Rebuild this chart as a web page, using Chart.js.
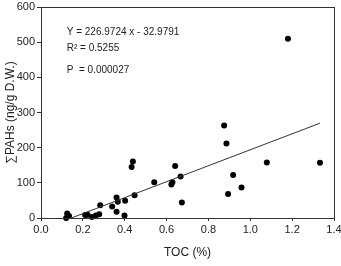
<!DOCTYPE html>
<html>
<head>
<meta charset="utf-8">
<script src="https://cdn.jsdelivr.net/npm/chart.js@4.4.1/dist/chart.umd.min.js"></script>
<style>
  html, body { margin: 0; padding: 0; background: #fff; }
  #wrap { width: 341px; height: 266px; }
</style>
</head>
<body>
<div id="wrap"><canvas id="chart"></canvas></div>
<script>
// TOC (%) vs sum of PAHs (ng/g D.W.)
const tocValues = [
  0.12, 0.125, 0.134, 0.211, 0.222, 0.243, 0.262, 0.278, 0.283, 0.340,
  0.361, 0.361, 0.367, 0.402, 0.399, 0.433, 0.439, 0.447, 0.541, 0.623,
  0.628, 0.641, 0.667, 0.673, 0.875, 0.886, 0.894, 0.918, 0.958, 1.079,
  1.180, 1.333
];
const pahValues = [
  0, 13, 6, 8.5, 9.5, 3, 7, 11, 36, 33,
  58, 18, 46, 49, 7, 145, 161, 65, 102, 95,
  102, 148, 118, 44, 263, 212, 68, 122, 87, 158,
  510, 157
];

// ends of the fitted line (Y = 226.9724x - 32.9791)
const fitX = [0.145, 1.333];
const fitY = [0, 269.6];

const xTicks = [0, 0.2, 0.4, 0.6, 0.8, 1.0, 1.2, 1.4];
const yTicks = [0, 100, 200, 300, 400, 500, 600];

const noteLines = ["Y = 226.9724 x - 32.9791", "R\u00b2 = 0.5255", "P  = 0.000027"];
const noteX = [0.123, 0.123, 0.123];
const noteY = [527, 482, 419];

const FONT = "'Liberation Sans', Arial, sans-serif";
const INK = "#222";

const scatterPoints = tocValues.map((x, i) => ({ x: x, y: pahValues[i] }));
const fitPoints = fitX.map((x, i) => ({ x: x, y: fitY[i] }));

// frame around the plot + regression stats text
const framePlugin = {
  id: "frame",
  afterDraw(chart) {
    const { ctx, chartArea } = chart;
    const xs = chart.scales.x;
    const ys = chart.scales.y;
    ctx.save();
    ctx.strokeStyle = "#333";
    ctx.lineWidth = 1;
    ctx.strokeRect(
      Math.round(chartArea.left) + 0.5,
      Math.round(chartArea.top) + 0.5,
      Math.round(chartArea.right - chartArea.left),
      Math.round(chartArea.bottom - chartArea.top)
    );
    ctx.fillStyle = INK;
    ctx.font = "10px " + FONT;
    ctx.textBaseline = "middle";
    ctx.textAlign = "left";
    noteLines.forEach((text, i) => {
      ctx.fillText(text, xs.getPixelForValue(noteX[i]), ys.getPixelForValue(noteY[i]));
    });
    ctx.restore();
  },
};

new Chart(document.getElementById("chart"), {
  type: "scatter",
  data: {
    datasets: [
      {
        label: "fit",
        type: "line",
        data: fitPoints,
        borderColor: "#333",
        borderWidth: 1,
        pointRadius: 0,
        fill: false,
        tension: 0,
      },
      {
        label: "samples",
        data: scatterPoints,
        backgroundColor: "#000",
        borderColor: "#000",
        borderWidth: 0,
        pointRadius: 3,
        clip: false,
      },
    ],
  },
  options: {
    responsive: true,
    maintainAspectRatio: false,
    animation: false,
    events: [],
    layout: {
      padding: { top: 7, right: 7, bottom: 0, left: 0 },
    },
    plugins: {
      legend: { display: false },
      tooltip: { enabled: false },
    },
    scales: {
      x: {
        type: "linear",
        min: 0,
        max: 1.4,
        afterBuildTicks: (scale) => {
          scale.ticks = xTicks.map((v) => ({ value: v }));
        },
        afterFit: (scale) => {
          scale.height = 48;
          scale.paddingLeft = 0;
          scale.paddingRight = 0;
        },
        ticks: {
          color: INK,
          padding: 2,
          maxRotation: 0,
          autoSkip: false,
          font: { size: 11, family: FONT },
          callback: (value) => Number(value).toFixed(1),
        },
        grid: {
          drawOnChartArea: false,
          drawTicks: true,
          tickLength: 3,
          color: "#333",
        },
        border: { display: false },
        title: {
          display: true,
          text: "TOC (%)",
          color: INK,
          font: { size: 12, family: FONT },
          padding: { top: 0, bottom: 6 },
        },
      },
      y: {
        type: "linear",
        min: 0,
        max: 600,
        afterBuildTicks: (scale) => {
          scale.ticks = yTicks.map((v) => ({ value: v }));
        },
        afterFit: (scale) => {
          scale.width = 41;
          scale.paddingTop = 0;
          scale.paddingBottom = 0;
        },
        ticks: {
          color: INK,
          padding: 2,
          autoSkip: false,
          font: { size: 11, family: FONT },
        },
        grid: {
          drawOnChartArea: false,
          drawTicks: true,
          tickLength: 4,
          color: "#333",
        },
        border: { display: false },
        title: {
          display: true,
          text: "\u2211PAHs (ng/g D.W.)",
          color: INK,
          font: { size: 12, family: FONT },
          padding: { top: 3, bottom: 0 },
        },
      },
    },
  },
  plugins: [framePlugin],
});
</script>
</body>
</html>
